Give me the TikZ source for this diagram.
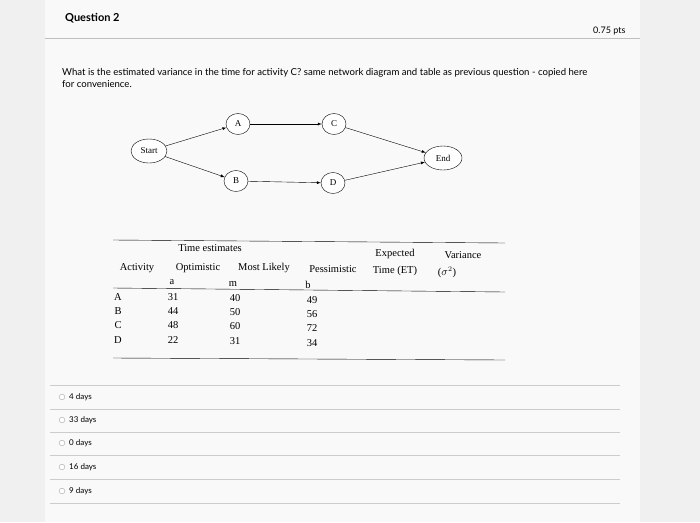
\documentclass[tikz,border=0pt]{standalone}
\usepackage{fontspec}
\usetikzlibrary{shapes.geometric}
\setmainfont{Liberation Serif}
\newfontfamily\lato{Lato}
\begin{document}
\begin{tikzpicture}[x=1pt,y=-1pt,
  ev/.style={draw,ellipse,minimum width=30pt,minimum height=24pt,inner sep=1pt,font=\fontsize{9}{10}\selectfont,fill=white},
  arr/.style={-latex,thin},
  tx/.style={font=\fontsize{10.5}{11}\selectfont,inner sep=0,anchor=base},
  ui/.style={font=\lato\fontsize{9}{10}\selectfont,inner sep=0,anchor=base west},
  opt/.style={font=\lato\fontsize{8}{9}\selectfont,inner sep=0,anchor=west},
  rb/.style={draw=gray!70,fill=white,circle,inner sep=2pt}]
\useasboundingbox (0,0) rectangle (700,522);
\fill[gray!12] (0,0) rectangle (700,522);
\fill[white!95!gray] (45,0) rectangle (640,522);
\draw[gray!50] (45,38) -- (640,38);
\node[ui,font=\lato\bfseries\fontsize{11}{12}\selectfont] (q) at (65,21) {Question 2};
\node[ui] (p) at (593,33) {0.75 pts};
\node[ui,font=\lato\fontsize{9.6}{11}\selectfont] (t1) at (62,75) {What is the estimated variance in the time for activity C? same network diagram and table as previous question - copied here};
\node[ui,font=\lato\fontsize{9.6}{11}\selectfont] (t2) at (62,87) {for convenience.};
\node[ev,minimum width=36pt] (S) at (149,151) {Start};
\node[ev,minimum width=24pt,minimum height=21pt] (A) at (238,124) {A};
\node[ev,minimum width=24pt,minimum height=21pt] (C) at (334,124) {C};
\node[ev,minimum width=38pt] (E) at (443,158) {End};
\node[ev,minimum width=24pt,minimum height=21pt] (B) at (236,181) {B};
\node[ev,minimum width=24pt,minimum height=21pt] (D) at (333,183) {D};
\draw[arr] (S) -- (A); \draw[arr] (S) -- (B);
\draw[arr] (A) -- (C); \draw[arr] (B) -- (D);
\draw[arr] (C) -- (E); \draw[arr] (D) -- (E);
\draw (113,240) -- (505,243);
\draw (113,288) -- (505,292);
\draw (113,358) -- (505,360);
\node[tx] (h1) at (210,251) {Time estimates};
\node[tx] (h2) at (137,270) {Activity};
\node[tx] (h3) at (198,270) {Optimistic};
\node[tx] (h4) at (264,270) {Most Likely};
\node[tx] (h5) at (333,272) {Pessimistic};
\node[tx] (h6) at (395,256) {Expected};
\node[tx] (h7) at (395,273) {Time (ET)};
\node[tx] (h8) at (463,258) {Variance};
\node[tx] (h9) at (447,275) {($\sigma^2$)};
\node[tx] (sa) at (172,284) {a};
\node[tx] (sm) at (233,286) {m};
\node[tx] (sb) at (308,288) {b};
\foreach \r/\a/\m/\b/\y in {A/31/40/49/300,B/44/50/56/314,C/48/60/72/328,D/22/31/34/343}{
  \node[tx] at (118,\y) {\r};
  \node[tx] at (173,\y) {\a};
  \node[tx] at (235,\y+1) {\m};
  \node[tx] at (312,\y+3) {\b};
}
\foreach \t/\y in {4 days/397,33 days/420,0 days/443,16 days/467,9 days/491}{
  \draw[gray!40] (50,\y+12) -- (620,\y+12);
  \node[rb] at (62,\y) {};
  \node[opt] at (69,\y) {\t};
}
\draw[gray!40] (50,385) -- (620,385);
\end{tikzpicture}
\end{document}
